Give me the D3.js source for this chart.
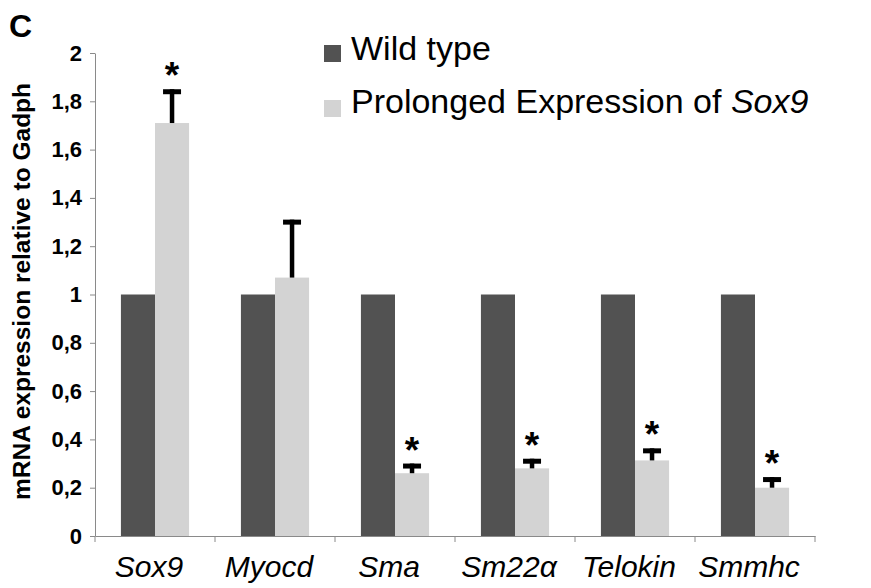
<!DOCTYPE html>
<html>
<head>
<meta charset="utf-8">
<script src="https://cdn.jsdelivr.net/npm/d3@7/dist/d3.min.js"></script>
<style>
  html, body { margin: 0; padding: 0; background: #fff; }
  svg text { font-family: Arial, "Liberation Sans", sans-serif; fill: #000; }
</style>
</head>
<body>
<div id="chart"></div>
<script>
// data
var genes     = ["Sox9", "Myocd", "Sma", "Sm22α", "Telokin", "Smmhc"];
var wildType  = [1, 1, 1, 1, 1, 1];
var prolonged = [1.71, 1.07, 0.26, 0.28, 0.313, 0.2];
var errUp     = [0.14, 0.24, 0.04, 0.04, 0.05, 0.044];
var signif    = [true, false, true, true, true, true];
var yTicks    = [0, 0.2, 0.4, 0.6, 0.8, 1, 1.2, 1.4, 1.6, 1.8, 2];
var seriesNames = ["Wild type", "Prolonged Expression of "];

var W = 871, H = 588;
var margin = { top: 53, right: 56, bottom: 52, left: 95 };
var iW = W - margin.left - margin.right;
var iH = H - margin.top - margin.bottom;
var DARK = "#525252", LIGHT = "#d3d3d3", AXIS = "#8a8a8a";
var FONT = "Arial, 'Liberation Sans', sans-serif";

var svg = d3.select("#chart").append("svg")
    .attr("width", W).attr("height", H);

var g = svg.append("g")
    .attr("transform", "translate(" + margin.left + "," + margin.top + ")");

var x = d3.scaleBand().domain(genes).range([0, iW]).paddingInner(0).paddingOuter(0);
var y = d3.scaleLinear().domain([0, 2]).range([iH, 0]);
var barW = x.bandwidth() * 0.284;

// bars
var grp = g.selectAll(".grp").data(genes).enter().append("g")
    .attr("transform", function (d) { return "translate(" + (x(d) + x.bandwidth() / 2) + ",0)"; });

grp.append("rect")
    .attr("x", -barW).attr("width", barW)
    .attr("y", function (d, i) { return y(wildType[i]); })
    .attr("height", function (d, i) { return iH - y(wildType[i]); })
    .attr("fill", DARK);

grp.append("rect")
    .attr("x", 0).attr("width", barW)
    .attr("y", function (d, i) { return y(prolonged[i]); })
    .attr("height", function (d, i) { return iH - y(prolonged[i]); })
    .attr("fill", LIGHT);

// error bars (upper only)
grp.append("line")
    .attr("x1", barW / 2).attr("x2", barW / 2)
    .attr("y1", function (d, i) { return y(prolonged[i]); })
    .attr("y2", function (d, i) { return y(prolonged[i] + errUp[i]); })
    .attr("stroke", "#000").attr("stroke-width", 4.5);

grp.append("line")
    .attr("x1", barW / 2 - 9).attr("x2", barW / 2 + 9)
    .attr("y1", function (d, i) { return y(prolonged[i] + errUp[i]) + 2.5; })
    .attr("y2", function (d, i) { return y(prolonged[i] + errUp[i]) + 2.5; })
    .attr("stroke", "#000").attr("stroke-width", 5);

// significance stars
grp.filter(function (d, i) { return signif[i]; })
    .append("text")
    .attr("x", barW / 2)
    .attr("y", function (d) { var i = genes.indexOf(d); return y(prolonged[i] + errUp[i]) - 1; })
    .attr("text-anchor", "middle")
    .style("font-size", "37px").style("font-weight", "bold")
    .text("*");

// axes
var yAxis = g.append("g").call(d3.axisLeft(y).tickValues(yTicks).tickSize(5).tickSizeOuter(0)
    .tickFormat(function (v) { return String(v).replace(".", ","); }));
yAxis.selectAll("text")
    .attr("x", -13)
    .style("font-size", "22px").style("font-weight", "bold")
    .style("font-family", FONT);

var xAxis = g.append("g").attr("transform", "translate(0," + iH + ")")
    .call(d3.axisBottom(x).tickSize(0).tickSizeOuter(0));
xAxis.selectAll("text")
    .attr("y", 41).attr("dy", 0).attr("dx", -6)
    .style("font-size", "30px").style("font-style", "italic")
    .style("font-family", FONT);

// category boundary ticks
g.selectAll(".xb").data(d3.range(genes.length + 1)).enter().append("line")
    .attr("x1", function (i) { return i * x.step(); })
    .attr("x2", function (i) { return i * x.step(); })
    .attr("y1", iH).attr("y2", iH + 6)
    .attr("stroke", AXIS);

g.selectAll(".domain, .tick line").attr("stroke", AXIS);

// y label
g.append("text")
    .attr("transform", "rotate(-90)")
    .attr("x", -iH / 2 + 3).attr("y", -65)
    .attr("text-anchor", "middle")
    .style("font-size", "24.5px").style("font-weight", "bold")
    .text("mRNA expression relative to Gadph");

// panel letter
svg.append("text").attr("x", 9).attr("y", 37)
    .style("font-size", "32px").style("font-weight", "bold").text("C");

// legend
var leg = svg.append("g").attr("transform", "translate(324,0)");
[[DARK, 45, 60], [LIGHT, 100, 113]].forEach(function (r, i) {
    leg.append("rect").attr("x", 0).attr("y", r[1]).attr("width", 17).attr("height", 17).attr("fill", r[0]);
    var t = leg.append("text").attr("x", 27).attr("y", r[2]).style("font-size", "34px").text(seriesNames[i]);
    if (i === 1) t.append("tspan").style("font-style", "italic").text("Sox9");
});
</script>
</body>
</html>
